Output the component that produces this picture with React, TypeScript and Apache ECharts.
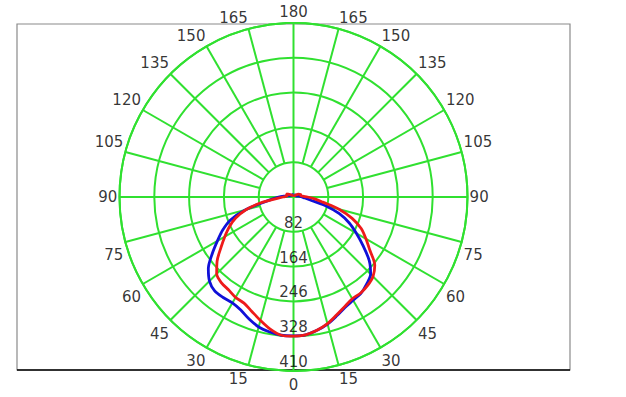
import React, { useEffect, useRef } from 'react';
import * as echarts from 'echarts';

// Angles from nadir (0) to zenith (180), degrees
const angles = [0, 5, 10, 15, 20, 25, 30, 35, 40, 45, 50, 55, 60, 65, 70, 75, 80, 85, 90,
  95, 100, 105, 110, 115, 120, 125, 130, 135, 140, 145, 150, 155, 160, 165, 170, 175, 180];

// Blue curve (left half / right half), candela
const blueLeft = [327, 327, 323, 317, 306, 294, 288, 289, 289, 280, 262, 234, 207, 184, 158, 118, 71, 49, 35,
  22, 14, 10, 8, 7, 7, 6, 6, 6, 6, 6, 6, 6, 6, 6, 6, 6, 6];
const blueRight = [327, 326, 319, 310, 298, 287, 281, 277, 268, 257, 233, 200, 171, 145, 115, 77, 40, 27, 20,
  16, 12, 9, 7, 6, 6, 6, 6, 6, 6, 6, 6, 6, 6, 6, 6, 6, 6];

// Red curve (left half / right half), candela
const redLeft = [328, 327, 316, 301, 287, 276, 273, 267, 264, 256, 235, 209, 187, 167, 145, 116, 78, 38, 25,
  18, 14, 15, 17, 18, 14, 10, 8, 6, 5, 4, 4, 4, 4, 4, 4, 4, 4];
const redRight = [328, 326, 319, 309, 296, 285, 277, 276, 272, 265, 250, 220, 197, 176, 147, 111, 70, 50, 33,
  22, 18, 17, 18, 18, 14, 10, 8, 6, 5, 4, 4, 4, 4, 4, 4, 4, 4];

const angleTicks = [0, 15, 30, 45, 60, 75, 90, 105, 120, 135, 150, 165, 180];
const radiusTicks = [82, 164, 246, 328, 410];

const GREEN = '#30e030';
const BLUE = '#1010d8';
const RED = '#ee1a1a';
const FONT = 'DejaVu Sans';

function curve(left: number[], right: number[]) {
  const pts: number[][] = [];
  for (let i = angles.length - 1; i >= 0; i--) pts.push([left[i], angles[i]]);
  for (let i = 0; i < angles.length; i++) pts.push([right[i], 360 - angles[i]]);
  return pts;
}

export default function App() {
  const ref = useRef<HTMLDivElement>(null);

  useEffect(() => {
    if (!ref.current) return;
    const chart = echarts.init(ref.current, undefined, { renderer: 'svg' });
    const rMax = radiusTicks[radiusTicks.length - 1];
    const rMin = radiusTicks[0];
    const labelR = rMax * 1.012;

    const spokeSeries: any[] = [];
    for (let a = 0; a < 360; a += 15) {
      if (a % 90 === 0) continue;
      spokeSeries.push({
        type: 'line', coordinateSystem: 'polar', symbol: 'none', silent: true, z: 1,
        data: [[rMin, a], [rMax, a]],
        lineStyle: { color: GREEN, width: 2 },
      });
    }
    spokeSeries.push({
      type: 'line', coordinateSystem: 'polar', symbol: 'none', silent: true, z: 1,
      data: [[rMax, 0], [0, 0], [rMax, 180]],
      lineStyle: { color: GREEN, width: 2 },
    });
    spokeSeries.push({
      type: 'line', coordinateSystem: 'polar', symbol: 'none', silent: true, z: 1,
      data: [[rMax, 90], [0, 90], [rMax, 270]],
      lineStyle: { color: GREEN, width: 2 },
    });

    const angleLabelData: any[] = [];
    angleTicks.forEach((t) => {
      const sides = t === 0 || t === 180 ? [t] : [t, 360 - t];
      sides.forEach((a) => {
        const align = t === 0 || t === 180 ? 'center' : a < 180 ? 'right' : 'left';
        const verticalAlign = t === 90 ? 'middle' : t > 90 ? 'bottom' : 'top';
        angleLabelData.push({
          name: String(t),
          value: [labelR, a],
          label: { align, verticalAlign, offset: t < 90 ? [0, 3] : [0, 0] },
        });
      });
    });

    const radiusLabelData = radiusTicks.map((v) => ({ name: String(v), value: [v, 0] }));

    const textStyle = { fontFamily: FONT, fontSize: 15, color: '#000', lineHeight: 18 };

    chart.setOption({
      animation: false,
      backgroundColor: '#ffffff',
      polar: { center: [293.5, 197], radius: 174 },
      angleAxis: {
        type: 'value', min: 0, max: 360, interval: 15, startAngle: 270, clockwise: true,
        axisLine: { show: true, lineStyle: { color: GREEN, width: 2 } },
        axisTick: { show: false }, axisLabel: { show: false }, splitLine: { show: false },
      },
      radiusAxis: {
        type: 'value', min: 0, max: rMax, interval: rMin,
        axisLine: { show: false }, axisTick: { show: false }, axisLabel: { show: false },
        splitLine: { show: true, lineStyle: { color: GREEN, width: 2 } },
      },
      graphic: [
        { type: 'rect', z: -10, shape: { x: 17, y: 24, width: 553, height: 346 },
          style: { fill: 'none', stroke: '#8a8a8a', lineWidth: 1.2 } },
        { type: 'line', z: -9, shape: { x1: 17, y1: 370, x2: 570, y2: 370 },
          style: { stroke: '#000', lineWidth: 1.5 } },
      ],
      series: [
        ...spokeSeries,
        {
          type: 'line', coordinateSystem: 'polar', symbol: 'none', smooth: 0.3, z: 3,
          data: curve(blueLeft, blueRight), lineStyle: { color: BLUE, width: 2.8 },
        },
        {
          type: 'line', coordinateSystem: 'polar', symbol: 'none', smooth: 0.3, z: 4,
          data: curve(redLeft, redRight), lineStyle: { color: RED, width: 2.8 },
        },
        {
          type: 'scatter', coordinateSystem: 'polar', clip: false, symbolSize: 0, silent: true, z: 5,
          data: angleLabelData,
          label: { show: true, position: 'inside', formatter: '{b}', ...textStyle },
        },
        {
          type: 'scatter', coordinateSystem: 'polar', clip: false, symbolSize: 0, silent: true, z: 5,
          data: radiusLabelData,
          label: { show: true, position: 'inside', formatter: '{b}', align: 'center',
            verticalAlign: 'bottom', offset: [0, 0], ...textStyle },
        },
      ],
    });
    return () => chart.dispose();
  }, []);

  return (
    <div
      ref={ref}
      style={{ position: 'absolute', left: 0, top: 0, width: 626, height: 397, background: '#fff' }}
    />
  );
}
